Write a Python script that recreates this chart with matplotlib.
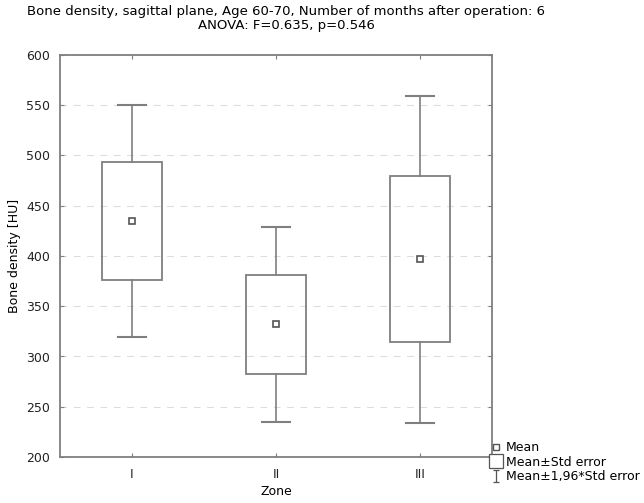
import matplotlib.pyplot as plt
from matplotlib.lines import Line2D
from matplotlib.patches import Rectangle
from matplotlib.path import Path

zones = ["I", "II", "III"]
means = [435, 332, 397]
std_err = [59, 49.5, 83]

plt.rcParams['font.family'] = ['DejaVu Sans']
plt.rcParams['font.size'] = 9

gray = '#7f7f7f'
fig = plt.figure(figsize=(6.44, 5.03), dpi=100)
ax = fig.add_axes([60/644, 1 - 457/503, 432/644, 402/503])

box_w = 0.41
cap_w = 0.2
for i, (m, se) in enumerate(zip(means, std_err)):
    x = i + 1
    lo, hi = m - 1.96*se, m + 1.96*se
    ax.add_patch(Rectangle((x - box_w/2, m - se), box_w, 2*se, fill=False,
                           edgecolor=gray, lw=1.3, zorder=3))
    ax.plot([x, x], [m + se, hi], color=gray, lw=1.2, zorder=3)
    ax.plot([x, x], [lo, m - se], color=gray, lw=1.2, zorder=3)
    ax.plot([x - cap_w/2, x + cap_w/2], [hi, hi], color=gray, lw=1.5, zorder=3)
    ax.plot([x - cap_w/2, x + cap_w/2], [lo, lo], color=gray, lw=1.5, zorder=3)
    ax.plot(x, m, marker='s', ms=5, mfc='white', mec='#555555', mew=1.2, zorder=4)

ax.set_xlim(0.5, 3.5)
ax.set_ylim(200, 600)
ax.set_xticks([1, 2, 3])
ax.set_xticklabels(zones)
ax.set_yticks(range(200, 601, 50))
ax.yaxis.grid(True, color='#dddddd', lw=0.8, ls=(0, (6, 6)))
ax.set_axisbelow(True)
ax.tick_params(direction='in', length=3, color=gray, top=True, right=True,
               labelcolor='#222222')
ax.tick_params(axis='x', pad=8)
ax.tick_params(axis='y', pad=7)
for s in ax.spines.values():
    s.set_color(gray)
    s.set_linewidth(1.3)

ax.set_xlabel("Zone", labelpad=3)
ax.set_ylabel("Bone density [HU]", labelpad=4)

fig.text(286/644, 1 - 12/503, "Bone density, sagittal plane, Age 60-70, Number of months after operation: 6",
         ha='center', va='center', fontsize=9.5)
fig.text(286/644, 1 - 25/503, "ANOVA: F=0.635, p=0.546", ha='center', va='center', fontsize=9.5)

# legend handles: mean marker, standard-error box, 1.96*SE whisker
whisker = Path([(0, 1), (0, -1), (-0.5, 1), (0.5, 1), (-0.5, -1), (0.5, -1)],
               [Path.MOVETO, Path.LINETO, Path.MOVETO, Path.LINETO, Path.MOVETO, Path.LINETO])
handles = [
    Line2D([], [], ls='none', marker='s', ms=5, mfc='white', mec='#555555', mew=1),
    Line2D([], [], ls='none', marker='s', ms=10, mfc='white', mec='#555555', mew=0.9),
    Line2D([], [], ls='none', marker=whisker, ms=9, mec='#555555', mew=0.9),
]
labels = ["Mean", "Mean\u00b1Std error", "Mean\u00b11,96*Std error"]
fig.legend(handles, labels, loc='upper left', bbox_to_anchor=(491/644, 1 - 441/503),
           frameon=False, handlelength=0.8, handletextpad=0.4, labelspacing=0.12,
           borderpad=0, borderaxespad=0)

fig.savefig("out.png", dpi=100)
